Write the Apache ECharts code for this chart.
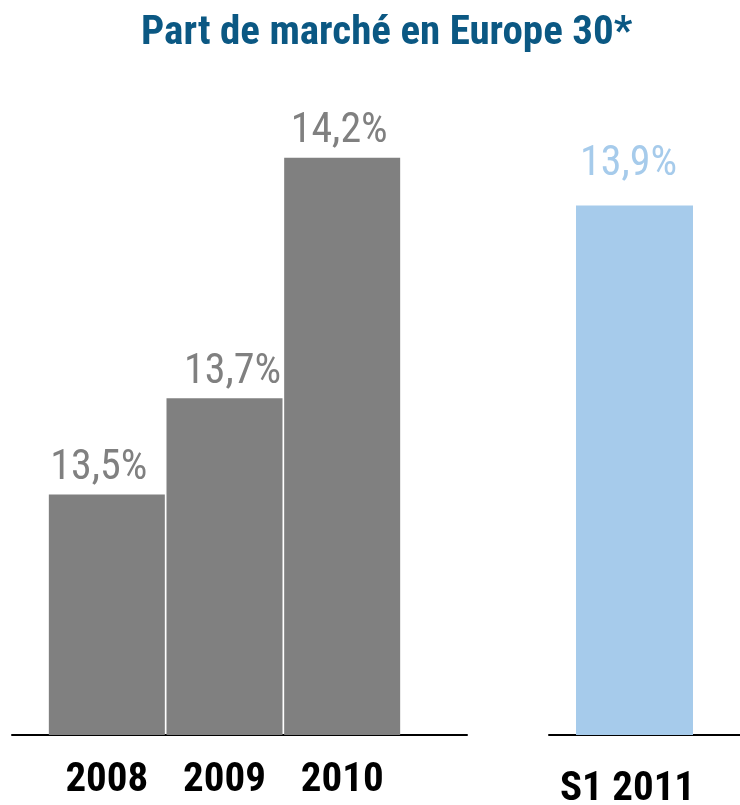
<!DOCTYPE html>
<html>
<head>
<meta charset="utf-8">
<script src="https://cdn.jsdelivr.net/npm/echarts@6/dist/echarts.min.js"></script>
<style>
html,body{margin:0;padding:0;background:#fff;}
#chart{width:740px;height:805px;}
</style>
</head>
<body>
<div id="chart"></div>
<script>
var titleText = 'Part de marché en Europe 30*';
var yearCategories = ['2008', '2009', '2010'];
var yearValues = [13.5, 13.7, 14.2];
var halfCategories = ['S1 2011'];
var halfValues = [13.9];

var FONT = '"Roboto Condensed", "DejaVu Sans Condensed", sans-serif';
function pct(p) { return p.value.toFixed(1).replace('.', ',') + '%'; }
var yearLabelShift = [[-8, 0], [8, 0], [-3, 0]];

var chart = echarts.init(document.getElementById('chart'), null, {renderer: 'canvas'});
chart.setOption({
  animation: false,
  backgroundColor: '#ffffff',
  title: {
    text: titleText,
    left: 136, top: 8,
    textStyle: {fontFamily: FONT, fontWeight: 'bold', fontSize: 41, color: '#0B5883'}
  },
  grid: [
    {left: 48, width: 353, top: 13.5, bottom: 70, outerBoundsMode: 'none', containLabel: false},
    {left: 576, width: 117, top: 29, bottom: 70, outerBoundsMode: 'none', containLabel: false},
    {left: 12, width: 455, top: 13.5, bottom: 70, outerBoundsMode: 'none', containLabel: false},
    {left: 549, right: 0, top: 13.5, bottom: 70, outerBoundsMode: 'none', containLabel: false}
  ],
  xAxis: [
    {type: 'category', gridIndex: 0, data: yearCategories,
     axisLine: {show: false}, axisTick: {show: false},
     axisLabel: {interval: 0, margin: 46, verticalAlign: 'middle', fontFamily: FONT, fontWeight: 'bold', fontSize: 41, color: '#000'}},
    {type: 'category', gridIndex: 1, data: halfCategories,
     axisLine: {show: false}, axisTick: {show: false},
     axisLabel: {interval: 0, margin: 55, verticalAlign: 'middle', padding: [0, 14, 0, 0], fontFamily: FONT, fontWeight: 'bold', fontSize: 41, color: '#000'}},
    {type: 'category', gridIndex: 2, data: [''],
     axisLine: {show: true, lineStyle: {color: '#000', width: 2}}, axisTick: {show: false}, axisLabel: {show: false}},
    {type: 'category', gridIndex: 3, data: [''],
     axisLine: {show: true, lineStyle: {color: '#000', width: 2}}, axisTick: {show: false}, axisLabel: {show: false}}
  ],
  yAxis: [
    {type: 'value', gridIndex: 0, min: 13, max: 14.5, show: false, splitLine: {show: false}},
    {type: 'value', gridIndex: 1, min: 13, max: 14.2, show: false, splitLine: {show: false}},
    {type: 'value', gridIndex: 2, min: 0, max: 1, show: false, splitLine: {show: false}},
    {type: 'value', gridIndex: 3, min: 0, max: 1, show: false, splitLine: {show: false}}
  ],
  series: [
    {type: 'bar', xAxisIndex: 0, yAxisIndex: 0, barWidth: 116,
     data: yearValues.map(function (v, i) { return {value: v, label: {offset: yearLabelShift[i]}}; }),
     itemStyle: {color: '#808080'},
     label: {show: true, position: 'top', distance: 5, formatter: pct,
             fontFamily: FONT, fontSize: 42, color: '#808080'}},
    {type: 'bar', xAxisIndex: 1, yAxisIndex: 1, data: halfValues, barWidth: 117,
     itemStyle: {color: '#A6CBEB'},
     label: {show: true, position: 'top', distance: 20, offset: [-6, 0], formatter: pct,
             fontFamily: FONT, fontSize: 42, color: '#A6CBEB'}}
  ]
});
</script>
</body>
</html>
